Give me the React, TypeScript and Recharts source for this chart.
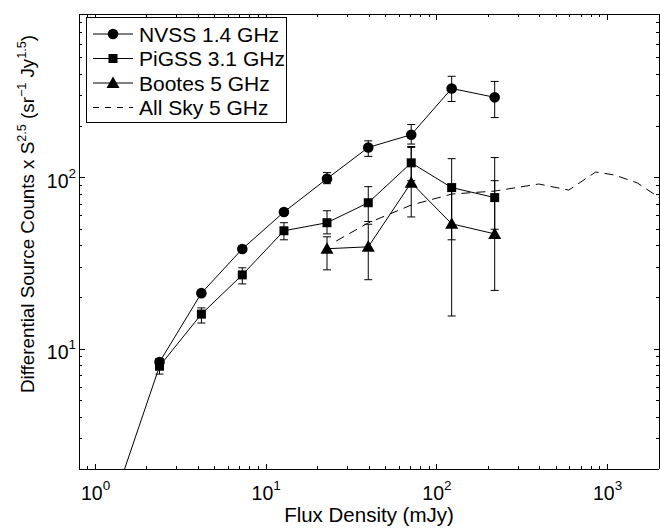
import React from 'react';
import { ComposedChart, Line, XAxis, YAxis, ErrorBar, Legend, Label } from 'recharts';

const FONT = '"Liberation Sans", Arial, Helvetica, sans-serif';

// NVSS 1.4 GHz
const nvssFlux = [2.37, 4.17, 7.24, 12.7, 22.7, 39.6, 70.7, 122, 218];
const nvssCounts = [8.4, 21.2, 38.4, 63.0, 98.6, 150, 178, 331, 294];
const nvssLow = [8.0, 20.4, 37.0, 60.5, 92.2, 133, 157, 278, 224];
const nvssHigh = [8.8, 22.0, 39.8, 65.5, 107, 164, 204, 390, 364];

// PiGSS 3.1 GHz
const pigssFlux = [1.35, 2.37, 4.17, 7.24, 12.7, 22.7, 39.6, 70.7, 122, 218];
const pigssCounts = [1.53, 7.95, 16.0, 27.1, 49.0, 54.6, 71.4, 122, 87.5, 76.5];
const pigssLow = [1.53, 7.15, 14.2, 24.0, 43.4, 47.0, 55.5, 96, 43.4, 50];
const pigssHigh = [1.53, 8.8, 17.4, 29.8, 54.6, 64.1, 88.6, 152, 129, 131];

// Bootes 5 GHz
const bootesFlux = [22.7, 39.6, 70.7, 122, 218];
const bootesCounts = [38.5, 39.5, 93.5, 53.8, 47.0];
const bootesLow = [29.0, 25.4, 59.0, 15.6, 22.0];
const bootesHigh = [45.2, 53.5, 150, 90, 96];

// All Sky 5 GHz
const allSkyFlux = [25.7, 39.5, 70.7, 122, 218, 395, 592, 851, 1099, 1497, 1909, 2100];
const allSkyCounts = [42.7, 54.4, 69.2, 80.2, 83.5, 91.8, 84.6, 107.8, 103.6, 93.0, 79.1, 74];

const seriesNames = ['NVSS 1.4 GHz', 'PiGSS 3.1 GHz', 'Bootes 5 GHz', 'All Sky 5 GHz'];

const X_DOMAIN = [0.8, 2000];
const Y_DOMAIN = [2, 900];
const xTicks = [0.9, 1, 2, 3, 4, 5, 6, 7, 8, 9, 10, 20, 30, 40, 50, 60, 70, 80, 90, 100, 200, 300, 400, 500, 600, 700, 800, 900, 1000];
const yTicks = [2, 3, 4, 5, 6, 7, 8, 9, 10, 20, 30, 40, 50, 60, 70, 80, 90, 100, 200, 300, 400, 500, 600, 700, 800];

const mk = (xs: number[], ys: number[], lo?: number[], hi?: number[]) =>
  xs.map((x, i) => {
    const hasErr = lo && hi && (hi[i] - ys[i] > 0 || ys[i] - lo[i] > 0);
    return {
      x,
      y: ys[i],
      err: hasErr ? [ys[i] - (lo as number[])[i], (hi as number[])[i] - ys[i]] : null,
    };
  });

const nvssData = mk(nvssFlux, nvssCounts, nvssLow, nvssHigh);
const pigssData = mk(pigssFlux, pigssCounts, pigssLow, pigssHigh);
const bootesData = mk(bootesFlux, bootesCounts, bootesLow, bootesHigh);
const allSkyData = mk(allSkyFlux, allSkyCounts);

const isMajor = (v: number) => Math.abs(Math.log10(v) - Math.round(Math.log10(v))) < 1e-6;
const MAJ = 5.5;
const MIN = 3;
const INK = '#000';
const crisp = (v: number) => Math.round(v - 0.5) + 0.5;

const BottomTick = (p: any) => {
  const { x, y, payload } = p;
  const v = payload.value;
  const m = isMajor(v);
  const cx = crisp(x);
  return (
    <g>
      <line x1={cx} x2={cx} y1={y} y2={y - (m ? MAJ : MIN)} stroke={INK} strokeWidth={1} shapeRendering="crispEdges" />
      {m && (
        <text x={x} y={y + 31} textAnchor="middle" fontSize={19.5} fontFamily={FONT} fill={INK}>
          10<tspan dy={-10} fontSize={13.5}>{Math.round(Math.log10(v))}</tspan>
        </text>
      )}
    </g>
  );
};

const TopTick = (p: any) => {
  const { x, y, payload } = p;
  const m = isMajor(payload.value);
  const cx = crisp(x);
  return <line x1={cx} x2={cx} y1={y} y2={y + (m ? MAJ : MIN)} stroke={INK} strokeWidth={1} shapeRendering="crispEdges" />;
};

const LeftTick = (p: any) => {
  const { x, y, payload } = p;
  const v = payload.value;
  const m = isMajor(v);
  const cy = crisp(y);
  return (
    <g>
      <line x1={x} x2={x + (m ? MAJ : MIN)} y1={cy} y2={cy} stroke={INK} strokeWidth={1} shapeRendering="crispEdges" />
      {m && (
        <text x={x - 3} y={y + 10} textAnchor="end" fontSize={19.5} fontFamily={FONT} fill={INK}>
          10<tspan dy={-10} fontSize={13.5}>{Math.round(Math.log10(v))}</tspan>
        </text>
      )}
    </g>
  );
};

const RightTick = (p: any) => {
  const { x, y, payload } = p;
  const m = isMajor(payload.value);
  const cy = crisp(y);
  return <line x1={x} x2={x - (m ? MAJ : MIN)} y1={cy} y2={cy} stroke={INK} strokeWidth={1} shapeRendering="crispEdges" />;
};

const inView = (v: any) => typeof v === 'number' && v >= Y_DOMAIN[0] && v <= Y_DOMAIN[1];

const SquareDot = (p: any) => {
  const { cx, cy, index, value } = p;
  if (cx == null || cy == null || !inView(value)) return <g key={`s${index}`} />;
  return <rect key={`s${index}`} x={cx - 4.5} y={cy - 4.5} width={9} height={9} fill={INK} />;
};

const TriDot = (p: any) => {
  const { cx, cy, index, value } = p;
  if (cx == null || cy == null || !inView(value)) return <g key={`t${index}`} />;
  return (
    <path key={`t${index}`} d={`M${cx},${cy - 6.5} L${cx + 6.5},${cy + 5} L${cx - 6.5},${cy + 5} Z`} fill={INK} />
  );
};

const LegendBox = () => {
  const rowY = [17, 41.5, 66, 90.5];
  return (
    <svg width={201} height={106} style={{ display: 'block' }}>
      <rect x={0.5} y={0.5} width={200} height={105} fill="#fff" stroke={INK} strokeWidth={1} />
      {seriesNames.map((name, i) => {
        const cy = rowY[i];
        return (
          <g key={name}>
            <line x1={7} x2={47} y1={cy} y2={cy} stroke={INK} strokeWidth={1} strokeDasharray={i === 3 ? '6 6' : undefined} />
            {i === 0 && <circle cx={27} cy={cy} r={5.3} fill={INK} />}
            {i === 1 && <rect x={22.5} y={cy - 4.5} width={9} height={9} fill={INK} />}
            {i === 2 && <path d={`M27,${cy - 6.5} L33.5,${cy + 5} L20.5,${cy + 5} Z`} fill={INK} />}
            <text x={53} y={cy + 7.5} fontSize={21} fontFamily={FONT} fill={INK}>
              {name}
            </text>
          </g>
        );
      })}
    </svg>
  );
};

const YTitle = () => (
  <text transform="translate(34,393) rotate(-90)" fontSize={18.8} fontFamily={FONT} fill={INK} textAnchor="start">
    Differential Source Counts x S<tspan dy={-8} fontSize={12.6}>2.5</tspan>
    <tspan dy={8}> (sr</tspan>
    <tspan dy={-8} fontSize={12.6}>−1</tspan>
    <tspan dy={8}> Jy</tspan>
    <tspan dy={-8} fontSize={12.6}>1.5</tspan>
    <tspan dy={8}>)</tspan>
  </text>
);

const XTitle = () => (
  <text x={369} y={522} textAnchor="middle" fontSize={20.5} fontFamily={FONT} fill={INK}>
    Flux Density (mJy)
  </text>
);

const axisLineStyle = { stroke: INK, strokeWidth: 1, shapeRendering: 'crispEdges' };

export default function App() {
  return (
    <div style={{ position: 'absolute', left: 0, top: 0, width: 660, height: 529, background: '#fff', fontFamily: FONT }}>
      <ComposedChart width={660} height={529} margin={{ top: 13, right: 0, bottom: 0, left: 0 }}>
        <XAxis xAxisId="b" type="number" dataKey="x" scale="log" domain={X_DOMAIN} allowDataOverflow ticks={xTicks} interval={0}
          tick={(p: any) => <BottomTick {...p} />} tickLine={false} tickSize={0} tickMargin={0}
          axisLine={axisLineStyle} height={60} orientation="bottom">
          <Label content={() => <XTitle />} />
        </XAxis>
        <XAxis xAxisId="t" type="number" dataKey="x" scale="log" domain={X_DOMAIN} allowDataOverflow ticks={xTicks} interval={0}
          tick={(p: any) => <TopTick {...p} />} tickLine={false} tickSize={0} tickMargin={0}
          axisLine={axisLineStyle} height={1} orientation="top" />
        <YAxis yAxisId="l" type="number" scale="log" domain={Y_DOMAIN} allowDataOverflow ticks={yTicks} interval={0}
          tick={(p: any) => <LeftTick {...p} />} tickLine={false} tickSize={0} tickMargin={0}
          axisLine={axisLineStyle} width={79} orientation="left">
          <Label content={() => <YTitle />} />
        </YAxis>
        <YAxis yAxisId="r" type="number" scale="log" domain={Y_DOMAIN} allowDataOverflow ticks={yTicks} interval={0}
          tick={(p: any) => <RightTick {...p} />} tickLine={false} tickSize={0} tickMargin={0}
          axisLine={axisLineStyle} width={1} orientation="right" />
        <Legend layout="vertical" align="center" verticalAlign="middle" content={() => <LegendBox />}
          wrapperStyle={{ left: 86, top: 17, width: 201, height: 106 }} />
        <Line xAxisId="b" yAxisId="l" data={nvssData} dataKey="y" name={seriesNames[0]} stroke={INK} strokeWidth={1}
          dot={{ r: 5.3, fill: INK, stroke: INK, strokeWidth: 0 }} activeDot={false} isAnimationActive={false}>
          <ErrorBar dataKey="err" direction="y" width={4} stroke={INK} strokeWidth={1} isAnimationActive={false} />
        </Line>
        <Line xAxisId="b" yAxisId="l" data={pigssData} dataKey="y" name={seriesNames[1]} stroke={INK} strokeWidth={1}
          dot={SquareDot} activeDot={false} isAnimationActive={false}>
          <ErrorBar dataKey="err" direction="y" width={4} stroke={INK} strokeWidth={1} isAnimationActive={false} />
        </Line>
        <Line xAxisId="b" yAxisId="r" data={bootesData} dataKey="y" name={seriesNames[2]} stroke={INK} strokeWidth={1}
          dot={TriDot} activeDot={false} isAnimationActive={false}>
          <ErrorBar dataKey="err" direction="y" width={4} stroke={INK} strokeWidth={1} isAnimationActive={false} />
        </Line>
        <Line xAxisId="t" yAxisId="l" data={allSkyData} dataKey="y" name={seriesNames[3]} stroke={INK} strokeWidth={1}
          strokeDasharray="9 6" dot={false} activeDot={false} isAnimationActive={false} />
      </ComposedChart>
    </div>
  );
}
